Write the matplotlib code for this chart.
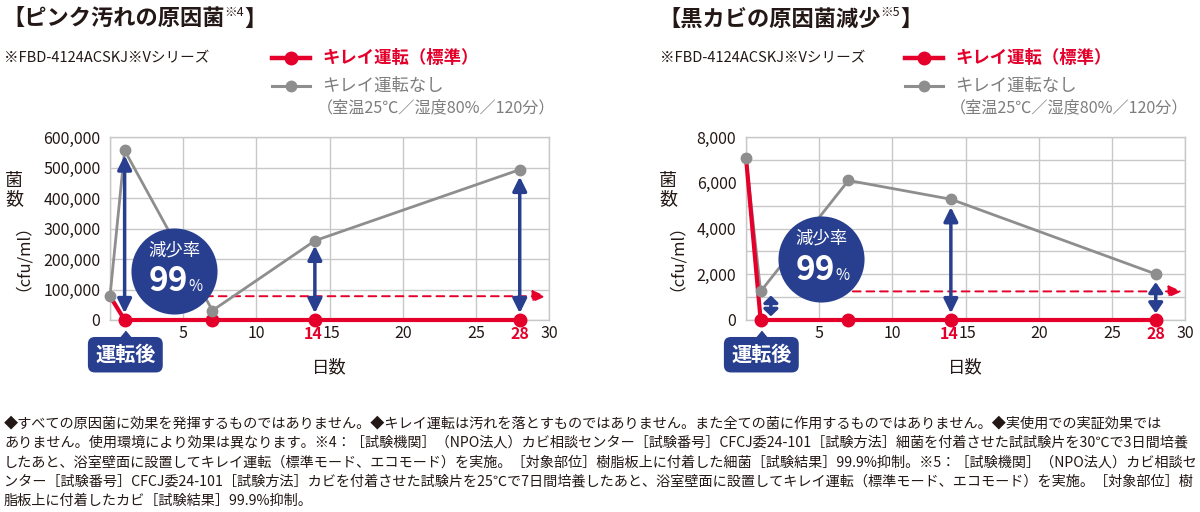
import numpy as np
import matplotlib
matplotlib.use("Agg")
import matplotlib.pyplot as plt
from matplotlib.lines import Line2D
from matplotlib.transforms import offset_copy

plt.rcParams['font.family'] = ['Noto Sans CJK JP', 'DejaVu Sans']

# ---- data ----
days = [0, 1, 7, 14, 28]

pink_kirei = [78000, 0, 0, 0, 0]
pink_none = [78000, 556000, 31000, 260000, 493000]

mold_kirei = [7100, 0, 0, 0, 0]
mold_none = [7100, 1250, 6100, 5280, 2010]

x_ticks = [5, 10, 14, 15, 20, 25, 28, 30]
x_hilite = [14, 28]

pink_yticks = [0, 100000, 200000, 300000, 400000, 500000, 600000]
pink_ygrid = pink_yticks
mold_yticks = [0, 2000, 4000, 6000, 8000]
mold_ygrid = [0, 1000, 2000, 3000, 4000, 5000, 6000, 7000, 8000]

# double arrows (x, low end, high end)
pink_arrow_x = [1, 14, 28]
pink_arrow_lo = [22000, 22000, 22000]
pink_arrow_hi = [540000, 244000, 470000]
mold_arrow_x = [1.7, 14, 28]
mold_arrow_lo = [160, 290, 290]
mold_arrow_hi = [1070, 4940, 1660]

# dashed reference arrow: level and start day
pink_ref = pink_none[0]
pink_ref_from = 6.5
mold_ref = mold_none[1]
mold_ref_from = 7.3

# "減少率 99%" badge centre (data coords)
pink_badge = (4.37, 160700)
mold_badge = (5.13, 2645)

titles = ["【ピンク汚れの原因菌", "【黒カビの原因菌減少"]
title_notes = ["※4", "※5"]
model = "※FBD-4124ACSKJ※Vシリーズ"
leg_on = "キレイ運転（標準）"
leg_off = "キレイ運転なし"
leg_cond = "（室温25℃／湿度80%／120分）"

notes = [
    "◆すべての原因菌に効果を発揮するものではありません。◆キレイ運転は汚れを落とすものではありません。また全ての菌に作用するものではありません。◆実使用での実証効果では",
    "ありません。使用環境により効果は異なります。※4：［試験機関］（NPO法人）カビ相談センター［試験番号］CFCJ委24-101［試験方法］細菌を付着させた試試験片を30℃で3日間培養",
    "したあと、浴室壁面に設置してキレイ運転（標準モード、エコモード）を実施。［対象部位］樹脂板上に付着した細菌［試験結果］99.9%抑制。※5：［試験機関］（NPO法人）カビ相談セ",
    "ンター［試験番号］CFCJ委24-101［試験方法］カビを付着させた試験片を25℃で7日間培養したあと、浴室壁面に設置してキレイ運転（標準モード、エコモード）を実施。［対象部位］樹",
    "脂板上に付着したカビ［試験結果］99.9%抑制。",
]

RED = '#e4002b'
GRAY = '#8e8e8e'
NAVY = '#283f8f'
GRID = '#c8c8c8'
INK = '#231815'

W, H = 1200, 512
AX_H = 183
fig = plt.figure(figsize=(W / 100, H / 100), dpi=100)


def fx(px):
    return px / W


def fy(py):
    return 1 - py / H


def draw_panel(ax, on, off, yticks, ygrid, ymax, ax_x, ax_lo, ax_hi, ref_y, ref_from, badge):
    ax.set_xlim(0, 30)
    ax.set_ylim(0, ymax)
    ax.set_xticks([])
    ax.set_xticks(np.arange(0, 31, 5), minor=True)
    ax.set_yticks(yticks)
    ax.set_yticklabels([f"{v:,}" for v in yticks])
    ax.set_yticks(ygrid, minor=True)
    ax.yaxis.remove_overlapping_locs = False
    ax.grid(True, which='minor', color=GRID, lw=1)
    ax.grid(False, which='major')
    ax.set_axisbelow(True)
    ax.tick_params(which='both', length=0)
    ax.tick_params(axis='y', pad=7, labelsize=11.5, labelcolor=INK)
    for sp in ax.spines.values():
        sp.set_color(GRID)
        sp.set_linewidth(1)

    # day labels (14 and 15 nudged apart so they just touch, as in the original)
    for t in x_ticks:
        dx = -2 if t == 14 else (2 if t == 15 else 0)
        hot = t in x_hilite
        ax.annotate(str(t), (t, 0), xytext=(dx, -14), textcoords='offset pixels',
                    ha='center', va='center', fontsize=11.5, annotation_clip=False,
                    color=RED if hot else INK, fontweight='bold' if hot else 'normal')

    # series
    ax.plot(days, off, color=GRAY, lw=2, zorder=3, clip_on=False)
    ax.plot(days, on, color=RED, lw=3, zorder=4, clip_on=False,
            marker='o', ms=9, markevery=[1, 2, 3, 4])
    ax.plot(days, off, ls='none', marker='o', ms=7.5, color=GRAY, zorder=5, clip_on=False)

    # dashed reference arrow
    ax.annotate('', xy=(29.8, ref_y), xytext=(ref_from, ref_y), zorder=2.5,
                arrowprops=dict(arrowstyle='-|>,head_length=0.8,head_width=0.35',
                                color=RED, lw=1.4, ls=(0, (4, 3)),
                                mutation_scale=10, shrinkA=0, shrinkB=0))

    # double arrows, heads get shorter on very short spans
    for x, lo, hi in zip(ax_x, ax_lo, ax_hi):
        span_pt = (hi - lo) / ymax * AX_H * 0.72
        hl = min(0.85, span_pt * 0.027)
        ax.annotate('', xy=(x, hi), xytext=(x, lo), zorder=6,
                    arrowprops=dict(arrowstyle=f'<|-|>,head_length={hl:.2f},head_width=0.42',
                                    color=NAVY, lw=2.5, mutation_scale=10,
                                    shrinkA=0, shrinkB=0))

    # badge
    bx, by = badge
    ax.scatter([bx], [by], s=62 ** 2, color=NAVY, zorder=7, clip_on=False, lw=0)
    ax.annotate('減少率', (bx, by), xytext=(0, 15), textcoords='offset points',
                ha='center', va='center', color='white', fontsize=12.5, zorder=8)
    ax.annotate('99', (bx, by), xytext=(10, -14.5), textcoords='offset points',
                ha='right', va='baseline', color='white', fontsize=24,
                fontweight='bold', zorder=8)
    ax.annotate('%', (bx, by), xytext=(10.5, -14.5), textcoords='offset points',
                ha='left', va='baseline', color='white', fontsize=11, zorder=8)

    # "運転後" tag under day 1
    tri = [(-1, -0.5), (1, -0.5), (0, 0.7)]
    ax.plot([days[1]], [0], ls='none', marker=tri, ms=9, color=NAVY, zorder=9, clip_on=False,
            transform=offset_copy(ax.transData, fig=fig, x=0, y=-15, units='dots'))
    ax.annotate('運転後', (days[1], 0), xytext=(0.5, -25), textcoords='offset points',
                ha='center', va='center', color='white', fontsize=14.5, fontweight='bold',
                zorder=9, annotation_clip=False,
                bbox=dict(boxstyle='round,pad=0.36,rounding_size=0.35', fc=NAVY, ec='none'))

    ax.set_xlabel('日数', fontsize=12.5, color=INK, labelpad=24)
    ax.set_xlim(0, 30)
    ax.set_ylim(0, ymax)


def put_pieces(x_px, pieces):
    r = fig.canvas.get_renderer()
    x = x_px
    for s, y_px, kw in pieces:
        t = fig.text(fx(x), fy(y_px), s, ha='left', va='center', color=INK, **kw)
        x += t.get_window_extent(renderer=r).width


def header(x0, leg_x, title, note):
    put_pieces(x0, [(title, 19, dict(fontsize=16, fontweight='bold')),
                    (note, 13, dict(fontsize=9)),
                    ("】", 19, dict(fontsize=16, fontweight='bold'))])
    fig.text(fx(x0 + 2), fy(58), model, fontsize=10.5, color=INK, va='center')
    # legend
    for y, col, lw, ms in [(58, RED, 3.2, 9), (86, GRAY, 2.2, 7.5)]:
        fig.add_artist(Line2D([fx(leg_x), fx(leg_x + 38)], [fy(y), fy(y)], color=col, lw=lw))
        fig.add_artist(Line2D([fx(leg_x + 19)], [fy(y)], color=col, marker='o', ms=ms, ls='none'))
    fig.text(fx(leg_x + 50), fy(58), leg_on, fontsize=12.5, fontweight='bold', color=RED, va='center')
    fig.text(fx(leg_x + 50), fy(86), leg_off, fontsize=12.5, color='#7d7d7d', va='center')
    fig.text(fx(leg_x + 45), fy(108), leg_cond, fontsize=11.6, color='#7d7d7d', va='center')


def ylabel(x_px):
    fig.text(fx(x_px), fy(190), '菌\n数', ha='center', va='center', fontsize=13,
             color=INK, linespacing=1.05)
    fig.text(fx(x_px), fy(249), '（cfu/ml）', ha='center', va='center', fontsize=12,
             color=INK, rotation=90)


ax1 = fig.add_axes([fx(110), fy(320), fx(439), AX_H / H])
ax2 = fig.add_axes([fx(746), fy(320), fx(439), AX_H / H])

draw_panel(ax1, pink_kirei, pink_none, pink_yticks, pink_ygrid, 600000,
           pink_arrow_x, pink_arrow_lo, pink_arrow_hi, pink_ref, pink_ref_from, pink_badge)
draw_panel(ax2, mold_kirei, mold_none, mold_yticks, mold_ygrid, 8000,
           mold_arrow_x, mold_arrow_lo, mold_arrow_hi, mold_ref, mold_ref_from, mold_badge)

header(2, 272, titles[0], title_notes[0])
header(658, 905, titles[1], title_notes[1])
ylabel(14)
ylabel(668)

for i, line in enumerate(notes):
    fig.text(fx(4), fy(423 + i * 19.6), line, fontsize=10.2, color=INK, va='center')

fig.savefig('out.png', dpi=100)
